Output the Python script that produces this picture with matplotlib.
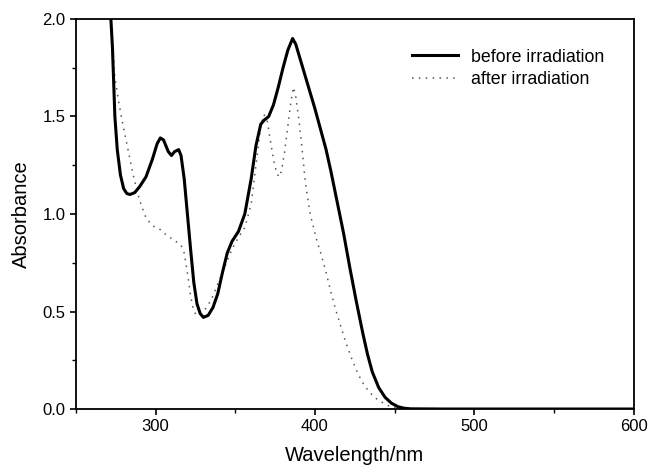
import matplotlib.pyplot as plt
from matplotlib.ticker import MultipleLocator

plt.rcParams['font.family'] = ['Liberation Sans', 'DejaVu Sans']

# Absorbance before irradiation
wl_before = [270, 272, 273, 274.5, 276, 278, 280, 282, 284, 287, 290, 294, 298, 301, 303,
             305, 308, 310, 312, 314.5, 316, 318, 320, 322, 324, 326, 328, 330, 333, 336,
             339, 342, 345, 348, 352, 356, 360, 363, 366, 368, 371, 374, 377, 380, 383,
             386, 388, 392, 396, 400, 404, 407, 410, 414, 418, 422, 426, 430, 433, 436,
             440, 444, 448, 452, 456, 460, 480, 520, 560, 600]
abs_before = [2.3, 2.0, 1.85, 1.5, 1.33, 1.2, 1.13, 1.105, 1.10, 1.11, 1.14, 1.19, 1.28, 1.36, 1.39,
              1.38, 1.32, 1.30, 1.32, 1.33, 1.30, 1.18, 1.00, 0.82, 0.65, 0.54, 0.49, 0.47, 0.48, 0.52,
              0.59, 0.70, 0.80, 0.86, 0.91, 1.00, 1.18, 1.35, 1.46, 1.48, 1.50, 1.56, 1.65, 1.75, 1.84,
              1.90, 1.87, 1.76, 1.65, 1.54, 1.42, 1.33, 1.22, 1.06, 0.90, 0.72, 0.55, 0.39, 0.28, 0.19,
              0.11, 0.06, 0.03, 0.012, 0.004, 0.001, 0.0, 0.0, 0.0, 0.0]

# Absorbance after irradiation
wl_after = [270, 272, 274.5, 277, 279, 281, 283, 286, 290, 294, 298, 303, 307, 311, 316,
            318, 320, 322, 324, 326, 328, 331, 335, 340, 345, 348, 352, 356, 360, 363,
            366, 368, 370, 372, 374, 376, 377.5, 379, 381, 383, 385, 386.5, 388, 390, 392,
            394, 397, 401, 404, 407, 410, 413, 416, 419, 423, 427, 431, 435, 439, 444,
            448, 452, 460, 480, 520, 560, 600]
abs_after = [2.3, 2.0, 1.70, 1.57, 1.48, 1.40, 1.32, 1.20, 1.07, 0.98, 0.94, 0.92, 0.89, 0.87, 0.84,
             0.80, 0.70, 0.58, 0.50, 0.48, 0.49, 0.51, 0.56, 0.66, 0.76, 0.82, 0.88, 0.93, 1.05, 1.25,
             1.45, 1.51, 1.48, 1.38, 1.28, 1.21, 1.19, 1.22, 1.32, 1.45, 1.58, 1.65, 1.60, 1.48, 1.33,
             1.16, 1.00, 0.87, 0.79, 0.70, 0.60, 0.51, 0.43, 0.35, 0.26, 0.18, 0.12, 0.08, 0.05, 0.025,
             0.01, 0.003, 0.0, 0.0, 0.0, 0.0, 0.0]

fig = plt.figure(figsize=(6.48, 4.71), dpi=100)
ax = fig.add_axes([0.117, 0.1316, 0.861, 0.8281])

ax.plot(wl_after, abs_after, color='#555555', lw=1.1, linestyle=(0, (1, 3.5)),
        label='after irradiation')
ax.plot(wl_before, abs_before, color='black', lw=2.2, label='before irradiation')

ax.set_xlim(250, 600)
ax.set_ylim(0, 2.0)
ax.xaxis.set_major_locator(MultipleLocator(100))
ax.xaxis.set_minor_locator(MultipleLocator(50))
ax.yaxis.set_major_locator(MultipleLocator(0.5))
ax.yaxis.set_minor_locator(MultipleLocator(0.25))
ax.yaxis.set_major_formatter(plt.FormatStrFormatter('%.1f'))
ax.tick_params(which='major', direction='out', length=4, width=1.2, labelsize=12)
ax.tick_params(which='minor', direction='out', length=3, width=1)
for s in ax.spines.values():
    s.set_linewidth(1.3)

ax.set_xlabel('Wavelength/nm', fontsize=14.5, labelpad=8)
ax.set_ylabel('Absorbance', fontsize=14.5, labelpad=8)

handles, labels = ax.get_legend_handles_labels()
ax.legend(handles[::-1], labels[::-1], loc='upper right', frameon=False, fontsize=12.8,
          handlelength=2.6, handletextpad=0.7, labelspacing=0.3,
          bbox_to_anchor=(0.975, 0.965))

plt.savefig('out.png', dpi=100)
